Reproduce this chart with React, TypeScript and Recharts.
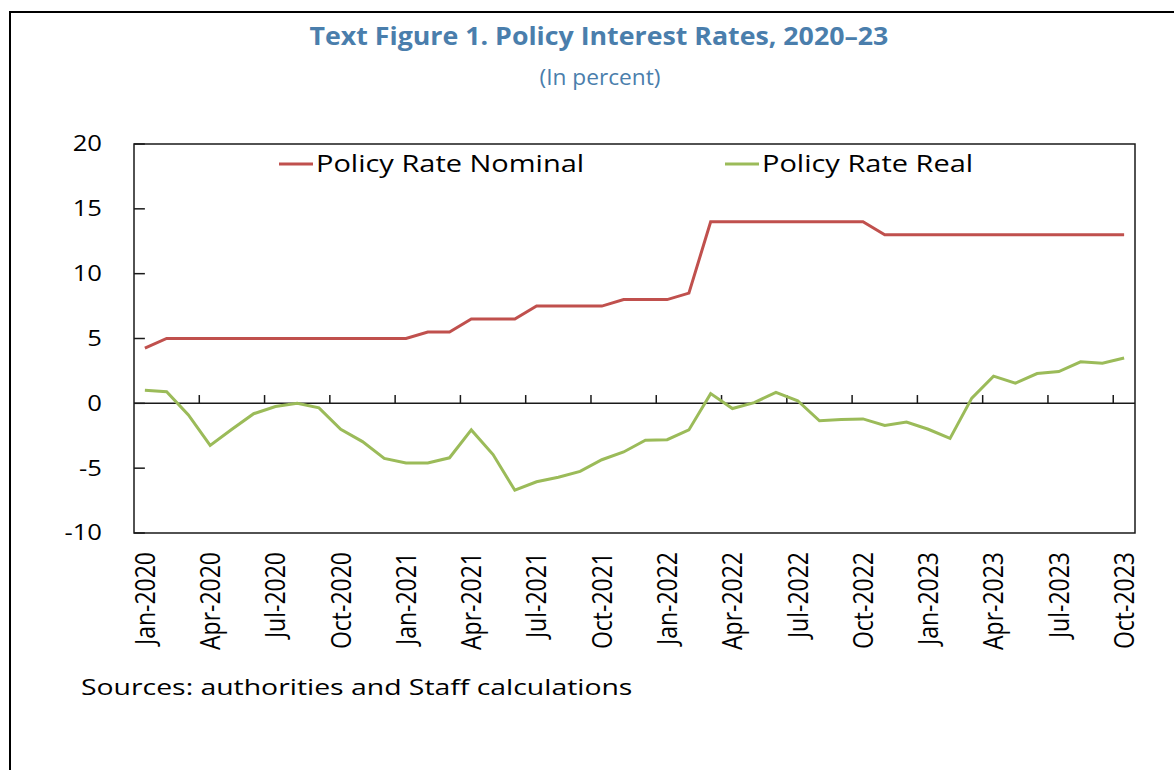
import React from 'react';
import { LineChart, Line, XAxis, YAxis, ReferenceLine, ReferenceArea, Legend } from 'recharts';

const months = [
  'Jan-2020', 'Feb-2020', 'Mar-2020', 'Apr-2020', 'May-2020', 'Jun-2020', 'Jul-2020', 'Aug-2020', 'Sep-2020', 'Oct-2020', 'Nov-2020', 'Dec-2020',
  'Jan-2021', 'Feb-2021', 'Mar-2021', 'Apr-2021', 'May-2021', 'Jun-2021', 'Jul-2021', 'Aug-2021', 'Sep-2021', 'Oct-2021', 'Nov-2021', 'Dec-2021',
  'Jan-2022', 'Feb-2022', 'Mar-2022', 'Apr-2022', 'May-2022', 'Jun-2022', 'Jul-2022', 'Aug-2022', 'Sep-2022', 'Oct-2022', 'Nov-2022', 'Dec-2022',
  'Jan-2023', 'Feb-2023', 'Mar-2023', 'Apr-2023', 'May-2023', 'Jun-2023', 'Jul-2023', 'Aug-2023', 'Sep-2023', 'Oct-2023',
];

const nominal = [
  4.25, 5, 5, 5, 5, 5, 5, 5, 5, 5, 5, 5,
  5, 5.5, 5.5, 6.5, 6.5, 6.5, 7.5, 7.5, 7.5, 7.5, 8, 8,
  8, 8.5, 14, 14, 14, 14, 14, 14, 14, 14, 13, 13,
  13, 13, 13, 13, 13, 13, 13, 13, 13, 13,
];

const real = [
  1.0, 0.9, -0.9, -3.25, -2.0, -0.8, -0.25, 0.0, -0.35, -2.0, -2.95, -4.25,
  -4.6, -4.6, -4.2, -2.05, -3.95, -6.7, -6.05, -5.7, -5.25, -4.35, -3.75, -2.85,
  -2.8, -2.05, 0.75, -0.4, 0.05, 0.85, 0.2, -1.35, -1.25, -1.2, -1.7, -1.45,
  -2.0, -2.7, 0.4, 2.1, 1.55, 2.3, 2.45, 3.2, 3.1, 3.5,
];

const xLabelTicks = [0, 3, 6, 9, 12, 15, 18, 21, 24, 27, 30, 33, 36, 39, 42, 45];
const xBoundaryTicks = [2.5, 5.5, 8.5, 11.5, 14.5, 17.5, 20.5, 23.5, 26.5, 29.5, 32.5, 35.5, 38.5, 41.5, 44.5];
const yTicks = [-10, -5, 0, 5, 10, 15, 20];

const data = months.map((m, i) => ({ i, month: m, nominal: nominal[i], real: real[i] }));

const SX = 1.22;
const FONT = '"Open Sans", sans-serif';
const BLUE = '#4a7eac';

const XTick = (props: any) => {
  const { x, y, payload } = props;
  return (
    <text
      transform={`translate(${x},${y + 19}) scale(${SX},1) rotate(-90)`}
      textAnchor="end"
      dy="0.35em"
      fontSize={23}
      fontFamily={FONT}
      fill="#000"
    >
      {months[payload.value]}
    </text>
  );
};

const YTick = (props: any) => {
  const { x, y, payload } = props;
  return (
    <text
      transform={`translate(${x - 32},${y}) scale(${SX},1)`}
      textAnchor="end"
      dy="0.35em"
      fontSize={21}
      fontFamily={FONT}
      fill="#000"
    >
      {payload.value}
    </text>
  );
};

const legendX = [279, 725];

const renderLegend = (props: any) => {
  const { payload } = props;
  return (
    <div style={{ position: 'relative', height: 0 }}>
      <svg width={1174} height={40} style={{ position: 'absolute', left: 0, top: 145, overflow: 'visible' }}>
        {(payload || []).map((p: any, k: number) => (
          <g key={k}>
            <line x1={legendX[k]} x2={legendX[k] + 34} y1={19} y2={19} stroke={p.color} strokeWidth={3} />
            <text
              transform={`translate(${legendX[k] + 37},19) scale(1.26,1)`}
              dy="0.35em"
              fontSize={23}
              fontFamily={FONT}
              fill="#000"
            >
              {p.value}
            </text>
          </g>
        ))}
      </svg>
    </div>
  );
};

export default function App() {
  return (
    <div style={{ position: 'fixed', left: 0, top: 0, width: 1174, height: 770, background: '#fff', overflow: 'hidden' }}>
      <div
        style={{
          position: 'absolute',
          left: 9,
          top: 11,
          width: 1200,
          height: 800,
          borderTop: '2px solid #000',
          borderLeft: '2px solid #000',
        }}
      />
      <div style={{ position: 'absolute', left: 0, top: 0 }}>
        <LineChart
          width={1174}
          height={770}
          data={data}
          margin={{ top: 144, right: 39, bottom: 207, left: 94 }}
        >
          <XAxis
            dataKey="i"
            type="number"
            domain={[-0.5, 45.5]}
            ticks={xLabelTicks}
            interval={0}
            axisLine={false}
            tickLine={false}
            tickSize={0}
            tickMargin={0}
            height={30}
            tick={<XTick />}
            allowDataOverflow
          />
          <YAxis
            type="number"
            domain={[-10, 20]}
            ticks={yTicks}
            interval={0}
            axisLine={false}
            tickLine={false}
            tickSize={0}
            tickMargin={0}
            width={40}
            tick={<YTick />}
          />
          <Legend verticalAlign="top" content={renderLegend} wrapperStyle={{ top: 0, left: 0, width: 1174, height: 0 }} />
          <ReferenceArea x1={-0.5} x2={45.5} y1={-10} y2={20} fill="none" stroke="#1a1a1a" strokeWidth={1.5} ifOverflow="visible" />
          <ReferenceLine y={0} stroke="#1a1a1a" strokeWidth={1.5} />
          {xBoundaryTicks.map((t) => (
            <ReferenceLine key={`xt${t}`} segment={[{ x: t, y: 0 }, { x: t, y: 0.64 }]} stroke="#1a1a1a" strokeWidth={1.5} ifOverflow="visible" />
          ))}
          {yTicks.map((v) => (
            <ReferenceLine key={`yt${v}`} segment={[{ x: -0.5, y: v }, { x: 0, y: v }]} stroke="#1a1a1a" strokeWidth={1.5} ifOverflow="visible" />
          ))}
          <Line type="linear" dataKey="nominal" name="Policy Rate Nominal" stroke="#c0504d" strokeWidth={3} dot={false} activeDot={false} isAnimationActive={false} />
          <Line type="linear" dataKey="real" name="Policy Rate Real" stroke="#9bbb59" strokeWidth={3} dot={false} activeDot={false} isAnimationActive={false} />
        </LineChart>
      </div>
      <svg width={1174} height={770} style={{ position: 'absolute', left: 0, top: 0, pointerEvents: 'none' }}>
        <text transform="translate(599,45) scale(1.07,1)" textAnchor="middle" fontWeight={700} fontSize={25} fontFamily={FONT} fill={BLUE}>
          Text Figure 1. Policy Interest Rates, 2020–23
        </text>
        <text transform="translate(600,85) scale(1.08,1)" textAnchor="middle" fontSize={21} fontFamily={FONT} fill={BLUE}>
          (In percent)
        </text>
        <text transform="translate(81,695) scale(1.29,1)" fontSize={22} fontFamily={FONT} fill="#000">
          Sources: authorities and Staff calculations
        </text>
      </svg>
    </div>
  );
}
